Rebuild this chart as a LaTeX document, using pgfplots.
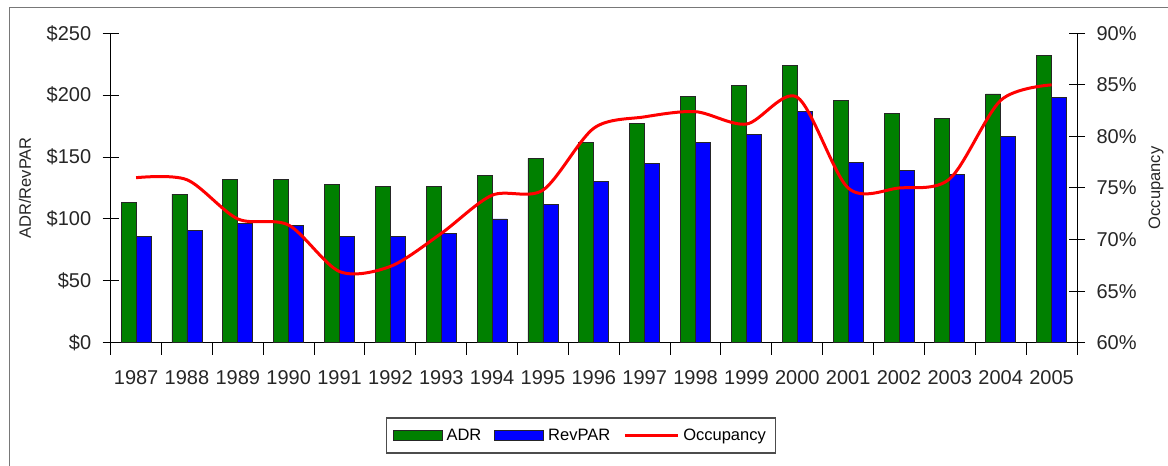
\documentclass[border=0pt]{standalone}
\usepackage{fontspec}
\setmainfont{Liberation Sans}
\usepackage{pgfplots}
\pgfplotsset{compat=1.18}
\usepackage{pgfplotstable}

\definecolor{adrgreen}{RGB}{0,128,0}
\definecolor{revblue}{RGB}{0,0,255}
\definecolor{occred}{RGB}{255,0,0}
\definecolor{framegray}{RGB}{120,120,120}

% ADR and RevPAR in dollars, occupancy in percent
\pgfplotstableread{
x year ADR RevPAR Occ
0  1987 113 86  76.0
1  1988 120 91  75.8
2  1989 132 96  72.0
3  1990 132 95  71.4
4  1991 128 86  66.9
5  1992 126 86  67.4
6  1993 126 88  70.6
7  1994 135 100 74.3
8  1995 149 112 74.8
9  1996 162 130 80.8
10 1997 177 145 81.9
11 1998 199 162 82.4
12 1999 208 168 81.2
13 2000 224 187 83.8
14 2001 196 146 75.0
15 2002 185 139 75.0
16 2003 181 136 75.9
17 2004 201 167 83.5
18 2005 232 198 85.0
}\datatable

\pgfplotsset{
  common/.style={
    at={(110.7pt,123.3pt)}, anchor=south west,
    scale only axis, width=966.3pt, height=309.4pt,
    xmin=-0.5, xmax=18.5,
    tick align=center,
    major tick length=16pt, minor tick length=12pt,
    tick style={black, line width=1pt},
    axis line style={black, line width=1pt},
    /pgf/number format/assume math mode=true,
    tick label style={font=\fontsize{20}{24}\selectfont, text=black!85},
    label style={font=\fontsize{16.5}{20}\selectfont, text=black!85},
  },
}

\begin{document}
\begin{tikzpicture}
\useasboundingbox (0pt,0pt) rectangle (1168pt,466pt);
\draw[framegray, line width=1.5pt] (9.3pt,0pt) -- (9.3pt,458.7pt) -- (1168pt,458.7pt);

\begin{axis}[common,
  ymin=0, ymax=250,
  axis x line*=bottom, axis y line*=left,
  ybar=0pt, bar width=15pt,
  xtick={0,...,18},
  xticklabels={1987,1988,1989,1990,1991,1992,1993,1994,1995,1996,1997,1998,1999,2000,2001,2002,2003,2004,2005},
  xticklabel style={yshift=-8pt},
  major x tick style={draw=none},
  minor xtick={-0.5,0.5,...,18.5},
  ytick={0,50,...,250},
  yticklabel={\$\pgfmathprintnumber{\tick}},
  yticklabel style={xshift=-8pt},
  ylabel={ADR/RevPAR},
  ylabel style={at={(axis description cs:-0.0887,0.5)}, anchor=center, rotate=0},
]
\addplot[fill=adrgreen, draw=black!85, line width=0.8pt] table[x=x, y=ADR] {\datatable};
\addplot[fill=revblue, draw=black!85, line width=0.8pt] table[x=x, y=RevPAR] {\datatable};
\end{axis}

\begin{axis}[common,
  ymin=60, ymax=90,
  axis y line*=right, axis x line=none,
  ytick={60,65,...,90},
  yticklabel={\pgfmathprintnumber{\tick}\%},
  yticklabel style={xshift=8pt},
  ylabel={Occupancy},
  ylabel style={at={(axis description cs:1.0818,0.5)}, anchor=center, rotate=0},
  legend columns=-1,
  legend style={at={(axis description cs:0.487,-0.30)}, anchor=center,
    draw=black!70, line width=1.2pt, font=\fontsize{16.5}{20}\selectfont,
    inner xsep=6pt, inner ysep=9pt,
    nodes={inner xsep=4pt},
    /tikz/every even column/.append style={column sep=9pt}},
]
\addlegendimage{legend image code/.code={\draw[fill=adrgreen, draw=black!85, line width=0.8pt] (0pt,-5pt) rectangle (49pt,5pt);}}
\addlegendentry{ADR}
\addlegendimage{legend image code/.code={\draw[fill=revblue, draw=black!85, line width=0.8pt] (0pt,-5pt) rectangle (49pt,5pt);}}
\addlegendentry{RevPAR}
\addplot[occred, line width=3pt, smooth, tension=0.5,
  legend image code/.code={\draw[occred, line width=3pt] (0pt,0pt) -- (53pt,0pt);}]
  table[x=x, y=Occ] {\datatable};
\addlegendentry{Occupancy}
\end{axis}
\end{tikzpicture}
\end{document}
